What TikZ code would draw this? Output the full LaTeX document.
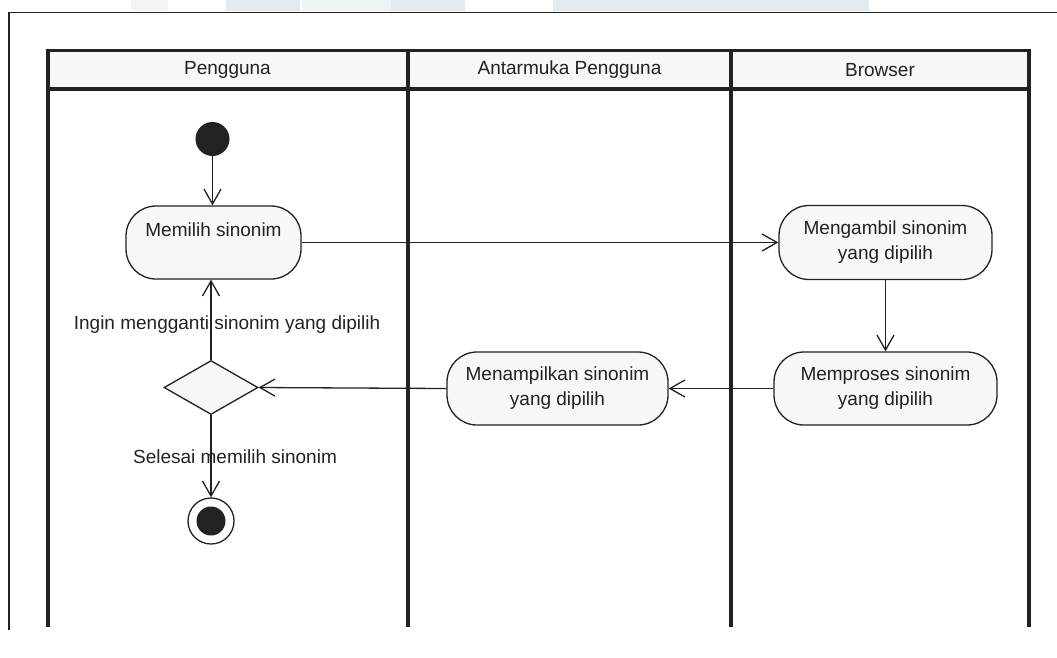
\documentclass[tikz,border=0pt]{standalone}
\usepackage{fontspec}
\setmainfont{Liberation Sans}
\usetikzlibrary{arrows.meta,shapes.geometric}
\definecolor{lanefill}{HTML}{F7F7F7}
\definecolor{ink}{HTML}{222222}
\definecolor{wm}{HTML}{E3EAEE}
\begin{document}
\begin{tikzpicture}[x=1pt,y=-1pt,
  every node/.style={font=\fontsize{19}{25}\selectfont, text=ink},
  action/.style={draw=ink, line width=1.3pt, fill=lanefill, rounded corners=30pt, align=center, inner sep=0pt},
  flow/.style={draw=ink, line width=1.3pt, -{Straight Barb[length=15pt,width=17pt]}},
  lane/.style={draw=ink, line width=4pt},
]
\useasboundingbox (0,0) rectangle (1057,657);
% faint watermark fragments at the top edge
\fill[wm] (226,0) rectangle (300,11);
\fill[wm!60] (302,0) rectangle (391,11);
\fill[wm] (391,0) rectangle (465,11);
\fill[wm] (553,0) rectangle (869,11);
\fill[wm!50] (131,0) rectangle (168,11);
% outer frame
\draw[ink, line width=1.5pt] (9,630) -- (9,12.7) -- (1057,12.7);
% header
\fill[lanefill] (47.7,50.7) rectangle (1029,89);
\draw[ink, line width=3.5pt] (47.7,50.7) -- (1029,50.7);
\draw[ink, line width=3.5pt] (47.7,89) -- (1029,89);
\draw[lane] (47.7,49) -- (47.7,627);
\draw[lane] (408,49) -- (408,627);
\draw[lane] (731,49) -- (731,627);
\draw[lane] (1029,49) -- (1029,627);
\node (h1) at (227.5,70) {Pengguna};
\node (h2) at (569.5,70) {Antarmuka Pengguna};
\node (h3) at (880,70) {Browser};
% nodes
\node[circle, fill=ink, minimum size=34pt, inner sep=0pt] (init) at (212.5,139) {};
\node[action, minimum width=175pt, minimum height=73pt] (memilih) at (213.5,242.5) {Memilih sinonim\\\mbox{}};
\node[action, minimum width=213pt, minimum height=74pt] (mengambil) at (885.5,242.5) {Mengambil sinonim\\yang dipilih};
\node[action, minimum width=223pt, minimum height=73pt] (memproses) at (885.5,388.5) {Memproses sinonim\\yang dipilih};
\node[action, minimum width=221pt, minimum height=73pt] (menampilkan) at (557.5,388.5) {Menampilkan sinonim\\yang dipilih};
\node[diamond, draw=ink, line width=1.3pt, fill=lanefill, minimum width=94pt, minimum height=54pt, inner sep=0pt] (dec) at (211,387.5) {};
\node[circle, draw=ink, line width=1.3pt, minimum size=46pt, inner sep=0pt] (final) at (211,521) {};
\fill[ink] (final) circle (14.5pt);
% connectors
\draw[flow] (init.south) -- (init.south |- memilih.north);
\draw[flow] (memilih.east) -- (mengambil.west |- memilih.east);
\draw[flow] (mengambil.south) -- (mengambil.south |- memproses.north);
\draw[flow] (memproses.west) -- (menampilkan.east);
\draw[flow] (menampilkan.west) -- (dec.east);
\draw[flow] (dec.north) -- (dec.north |- memilih.south);
\draw[flow] (dec.south) -- (final.north);
\node (lab1) at (227,325) {Ingin mengganti sinonim yang dipilih};
\node (lab2) at (235,457) {Selesai memilih sinonim};
\end{tikzpicture}
\end{document}
